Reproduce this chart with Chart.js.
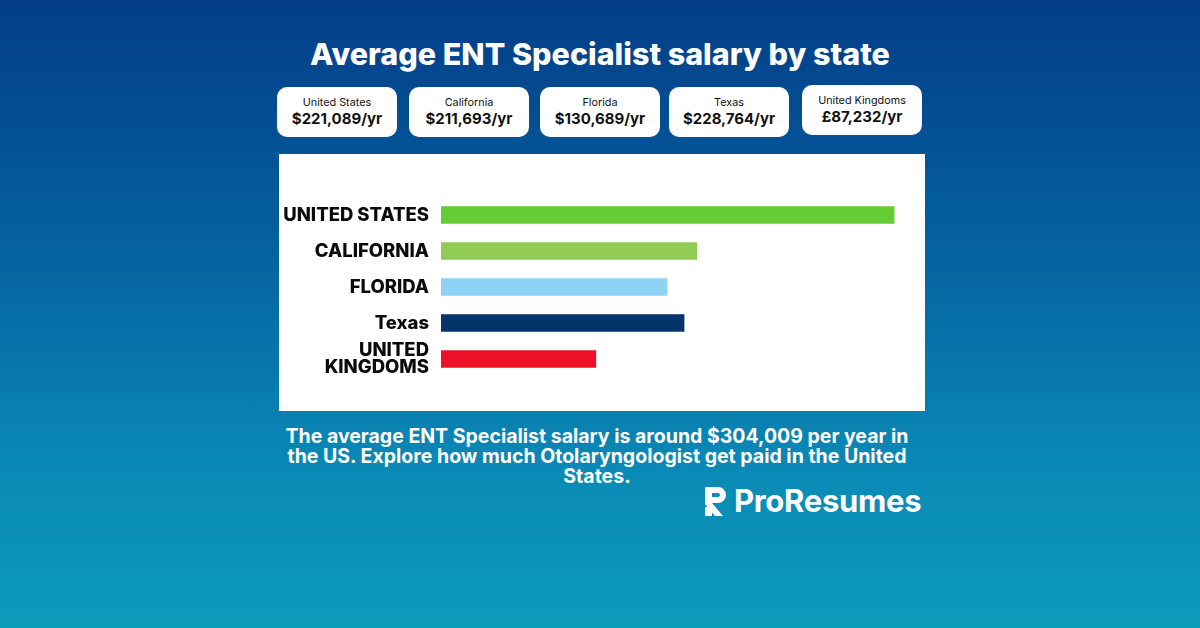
<!DOCTYPE html>
<html>
<head>
<meta charset="utf-8">
<script src="https://cdn.jsdelivr.net/npm/chart.js@4"></script>
<style>
  html, body { margin: 0; padding: 0; }
  body {
    width: 1200px; height: 628px; overflow: hidden; position: relative;
    background: linear-gradient(180deg, #033d88 0%, #0562a0 40%, #0a8ab6 75%, #0a9bba 100%);
    font-family: Inter, "Open Sans", sans-serif;
  }
  h1 {
    position: absolute; left: 0; width: 1200px; top: 35px; margin: 0;
    text-align: center; color: #fff; font-size: 30.5px; font-weight: 800; letter-spacing: 0px;
  }
  .card {
    position: absolute; width: 120px; height: 50px; background: #fff; border-radius: 10px;
    text-align: center; color: #111;
  }
  .card .lbl { font-size: 10.8px; margin-top: 9px; line-height: 13px; }
  .card .val { font-size: 15px; font-weight: 700; line-height: 20px; }
  #box { position: absolute; left: 279px; top: 154px; width: 646px; height: 257px; background: #fff; }
  #desc {
    position: absolute; left: 277px; width: 640px; top: 426px; margin: 0;
    text-align: center; color: #fff; font-size: 19.5px; font-weight: 700; line-height: 20px;
  }
  #logo {
    position: absolute; left: 703px; top: 482px; color: #fff; font-size: 31px; font-weight: 700;
    display: flex; align-items: center; letter-spacing: -0.3px;
  }
</style>
</head>
<body>
<h1 id="title"></h1>
<div id="cards"></div>
<div id="box"><canvas id="chart" width="646" height="257"></canvas></div>
<p id="desc">The average ENT Specialist salary is around $304,009 per year in the US. Explore how much Otolaryngologist get paid in the United States.</p>
<div id="logo">
  <svg width="28" height="32" viewBox="0 0 28 32">
    <path d="M2 2 H15 A8 8 0 0 1 15 18 H9 L20 31 H12 L2 19 Z M9 8 V12 H15 A2 2 0 0 0 15 8 Z" fill="#fff" fill-rule="evenodd"/>
    <rect x="2" y="22" width="7" height="9" fill="#fff"/>
  </svg>
  <span style="margin-left:3px">ProResumes</span>
</div>
<script>
const titleText = 'Average ENT Specialist salary by state';

// summary cards
const cardNames = ['United States', 'California', 'Florida', 'Texas', 'United Kingdoms'];
const cardValues = ['$221,089/yr', '$211,693/yr', '$130,689/yr', '$228,764/yr', '£87,232/yr'];
const cardLeft = [277, 409, 540, 669, 802];
const cardTop = [87, 87, 87, 87, 85];

// bar chart (bar lengths as drawn, not proportional to the card values)
const barLabels = ['UNITED STATES', 'CALIFORNIA', 'FLORIDA', 'Texas', ['UNITED', 'KINGDOMS']];
const barValues = [96.0, 54.2, 47.9, 51.5, 32.8];
const barColors = ['#66cc33', '#8fcb55', '#8dd3f6', '#03356a', '#ed1026'];

document.getElementById('title').textContent = titleText;

const cards = document.getElementById('cards');
cardNames.forEach((n, i) => {
  const c = document.createElement('div');
  c.className = 'card';
  c.style.left = cardLeft[i] + 'px';
  c.style.top = cardTop[i] + 'px';
  c.innerHTML = `<div class="lbl">${n}</div><div class="val">${cardValues[i]}</div>`;
  cards.appendChild(c);
});

const ctx = document.getElementById('chart').getContext('2d');
new Chart(ctx, {
  type: 'bar',
  data: {
    labels: barLabels,
    datasets: [{ data: barValues, backgroundColor: barColors, barThickness: 17, borderWidth: 0 }]
  },
  options: {
    indexAxis: 'y',
    responsive: false,
    animation: false,
    layout: { padding: { top: 43, bottom: 34, right: 12, left: 0 } },
    plugins: { legend: { display: false }, tooltip: { enabled: false } },
    scales: {
      x: { display: false, min: 0, max: 100 },
      y: {
        grid: { display: false },
        border: { display: false },
        afterFit: axis => { axis.width = 162; },
        ticks: {
          autoSkip: false,
          color: '#0b0b0b',
          padding: 4,
          font: { family: 'Inter', size: 18.5, weight: '800', lineHeight: 0.95 }
        }
      }
    }
  }
});
</script>
</body>
</html>
